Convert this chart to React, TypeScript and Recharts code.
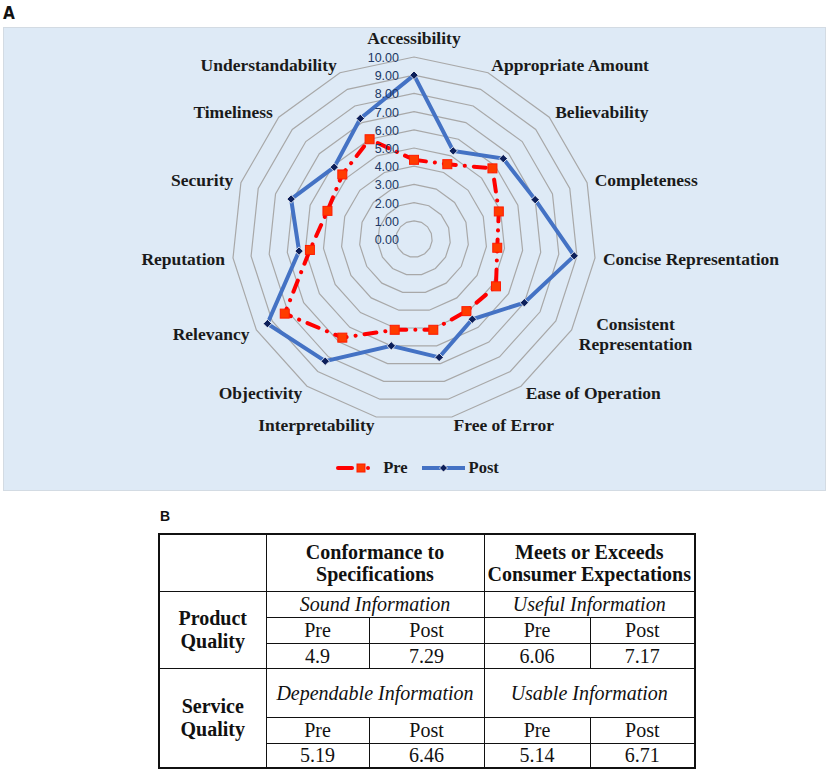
import React from "react";
import {
  RadarChart, Radar, PolarGrid, PolarAngleAxis, PolarRadiusAxis, Legend
} from "recharts";

const dimensions = [
  "Accessibility", "Appropriate Amount", "Believability", "Completeness",
  "Concise Representation", "Consistent Representation", "Ease of Operation",
  "Free of Error", "Interpretability", "Objectivity", "Relevancy",
  "Reputation", "Security", "Timeliness", "Understandability",
];
const preScores = [4.35, 4.5, 5.8, 4.9, 4.6, 5.2, 4.9, 5.1, 5.1, 6.7, 8.2, 5.75, 5.0, 5.3, 6.0];
const postScores = [9.0, 5.3, 6.6, 7.0, 8.85, 7.0, 5.45, 6.65, 6.0, 8.3, 9.3, 6.35, 7.1, 5.9, 7.25];
const legendOrder = ["pre", "post"];

// table (panel B)
const tableHeaders = [["Conformance to", "Specifications"], ["Meets or Exceeds", "Consumer Expectations"]];
const qualityRows = [["Product", "Quality"], ["Service", "Quality"]];
const infoTypes = [["Sound Information", "Useful Information"], ["Dependable Information", "Usable Information"]];
const phaseLabels = ["Pre", "Post", "Pre", "Post"];
const tableScores = [["4.9", "7.29", "6.06", "7.17"], ["5.19", "6.46", "5.14", "6.71"]];

const SERIF = "'Liberation Serif', 'Times New Roman', serif";
const SANS = "'Liberation Sans', Arial, sans-serif";

const CX = 411;
const CY = 212;
const R = 182;
const WRAPPED = ["Consistent Representation"];

const chartData = dimensions.map((d, i) => ({ dimension: d, pre: preScores[i], post: postScores[i] }));

function AngleTick(props: any) {
  const { x, y, payload } = props;
  const dx = x - CX;
  const dy = y - CY;
  const len = Math.hypot(dx, dy) || 1;
  const cos = dx / len;
  const anchor = Math.abs(cos) < 0.05 ? "middle" : cos > 0 ? "start" : "end";
  const label = payload.value as string;
  const style = { fontFamily: SERIF, fontWeight: 700, fontSize: 17.5, fill: "#1a1a1a" };
  if (WRAPPED.includes(label)) {
    const [a, ...rest] = label.split(" ");
    return (
      <text x={x + 57} textAnchor="middle" dominantBaseline="central" style={style}>
        <tspan x={x + 57} y={y - 10}>{a}</tspan>
        <tspan x={x + 57} y={y + 10}>{rest.join(" ")}</tspan>
      </text>
    );
  }
  const offY = anchor === "middle" && dy < 0 ? -11 : 0;
  return (
    <text x={x} y={y + offY} textAnchor={anchor} dominantBaseline="central" style={style}>
      {label}
    </text>
  );
}

function RadiusTick(props: any) {
  const { x, y, payload } = props;
  return (
    <text x={x - 15} y={y + 1} textAnchor="end" dominantBaseline="central"
      style={{ fontFamily: SANS, fontSize: 12.5, fill: "#203864" }}>
      {Number(payload.value).toFixed(2)}
    </text>
  );
}

function PreDot(p: any) {
  return <rect key={`pre-${p.index}`} x={p.cx - 4.5} y={p.cy - 4.5} width={9} height={9}
    fill="#ff3c00" stroke="#ff1a00" strokeWidth={1} />;
}

function PostDot(p: any) {
  const s = 4.2;
  return <path key={`post-${p.index}`}
    d={`M${p.cx},${p.cy - s}L${p.cx + s},${p.cy}L${p.cx},${p.cy + s}L${p.cx - s},${p.cy}Z`}
    fill="#0c1f5a" stroke="#ffffff" strokeWidth={0.8} />;
}

function LegendContent(props: any) {
  const items = [...(props.payload || [])].sort(
    (a: any, b: any) => legendOrder.indexOf(a.dataKey) - legendOrder.indexOf(b.dataKey)
  );
  return (
    <div style={{ display: "flex", justifyContent: "center", alignItems: "center", height: 22,
      fontFamily: SERIF, fontWeight: 700, fontSize: 16.5, color: "#1a1a1a", paddingLeft: 6 }}>
      {items.map((it: any) => (
        <span key={it.value} style={{ display: "flex", alignItems: "center", marginRight: it.dataKey === "pre" ? 13 : 0 }}>
          {it.dataKey === "pre" ? (
            <svg width={34} height={12} style={{ marginRight: 13 }}>
              <line x1={2} y1={6} x2={16} y2={6} stroke="#ff0000" strokeWidth={4} strokeLinecap="round" />
              <rect x={21} y={2} width={8} height={8} fill="#ff3c00" stroke="#ff1a00" />
              <circle cx={32} cy={6} r={2} fill="#ff0000" />
            </svg>
          ) : (
            <svg width={45} height={12} style={{ marginRight: 3 }}>
              <line x1={1} y1={6} x2={44} y2={6} stroke="#4472c4" strokeWidth={4} />
              <path d="M22.5,2L26.5,6L22.5,10L18.5,6Z" fill="#0c1f5a" stroke="#fff" strokeWidth={0.8} />
            </svg>
          )}
          <span>{it.value}</span>
        </span>
      ))}
    </div>
  );
}

const cellBorder = "1.5px solid #111";
const cell: React.CSSProperties = {
  border: cellBorder, padding: 0, textAlign: "center", verticalAlign: "middle",
  fontFamily: SERIF, fontSize: 20, lineHeight: "22px", color: "#111",
};

export default function App() {
  return (
    <div style={{ position: "absolute", left: 0, top: 0, width: 829, height: 771, background: "#fff" }}>
      <div style={{ position: "absolute", left: 3, top: 3, fontFamily: "'Liberation Sans Narrow', 'DejaVu Sans Condensed', sans-serif",
        fontWeight: 700, fontSize: 17, color: "#111" }}>A</div>

      <div style={{ position: "absolute", left: 3, top: 27, width: 823, height: 464,
        background: "#deeaf6", boxSizing: "border-box", border: "1px solid #d3dbe3" }}>
        <div style={{ position: "absolute", left: -1, top: -1 }}>
          <RadarChart width={823} height={464} cx={CX} cy={CY} outerRadius={R} data={chartData}
            margin={{ top: 0, right: 0, bottom: 0, left: 0 }}>
            <PolarGrid gridType="polygon" radialLines={false} stroke="#a8a8a8" strokeWidth={1.2} />
            <PolarAngleAxis dataKey="dimension" tick={AngleTick} tickLine={false} axisLine={false} />
            <PolarRadiusAxis angle={90} domain={[0, 10]} tickCount={11} axisLine={false}
              tickLine={false} tick={RadiusTick} />
            <Radar name="Pre" dataKey="pre" stroke="#ff0000" strokeWidth={4} fill="none" fillOpacity={0}
              strokeDasharray="12 9 0.1 9" strokeLinecap="round" dot={PreDot} isAnimationActive={false} />
            <Radar name="Post" dataKey="post" stroke="#4472c4" strokeWidth={4} fill="none" fillOpacity={0}
              dot={PostDot} isAnimationActive={false} />
            <Legend content={LegendContent}
              wrapperStyle={{ position: "absolute", top: 430, left: 0, width: 823, height: 22, bottom: "auto" }} />
          </RadarChart>
        </div>
      </div>

      <div style={{ position: "absolute", left: 160, top: 508, fontFamily: SANS, fontWeight: 700, fontSize: 14, color: "#111" }}>B</div>

      <table style={{ position: "absolute", left: 158, top: 533, width: 536, borderCollapse: "collapse",
        tableLayout: "fixed", border: "2px solid #111" }}>
        <colgroup>
          <col style={{ width: 107 }} />
          <col style={{ width: 103 }} />
          <col style={{ width: 115 }} />
          <col style={{ width: 106 }} />
          <col style={{ width: 105 }} />
        </colgroup>
        <tbody>
          <tr style={{ height: 57 }}>
            <td style={cell}></td>
            {tableHeaders.map((h) => (
              <td key={h[0]} colSpan={2} style={{ ...cell, fontWeight: 700, whiteSpace: "nowrap" }}>
                {h[0]}<br />{h[1]}
              </td>
            ))}
          </tr>
          {qualityRows.map((q, r) => (
            <React.Fragment key={q[0]}>
              <tr style={{ height: r === 0 ? 26 : 49 }}>
                <td rowSpan={3} style={{ ...cell, fontWeight: 700, lineHeight: "23px" }}>{q[0]}<br />{q[1]}</td>
                {infoTypes[r].map((t) => (
                  <td key={t} colSpan={2} style={{ ...cell, fontStyle: "italic", whiteSpace: "nowrap" }}>{t}</td>
                ))}
              </tr>
              <tr style={{ height: 26 }}>
                {phaseLabels.map((p, i) => <td key={i} style={cell}>{p}</td>)}
              </tr>
              <tr style={{ height: 25 }}>
                {tableScores[r].map((v, i) => <td key={i} style={cell}>{v}</td>)}
              </tr>
            </React.Fragment>
          ))}
        </tbody>
      </table>
    </div>
  );
}
